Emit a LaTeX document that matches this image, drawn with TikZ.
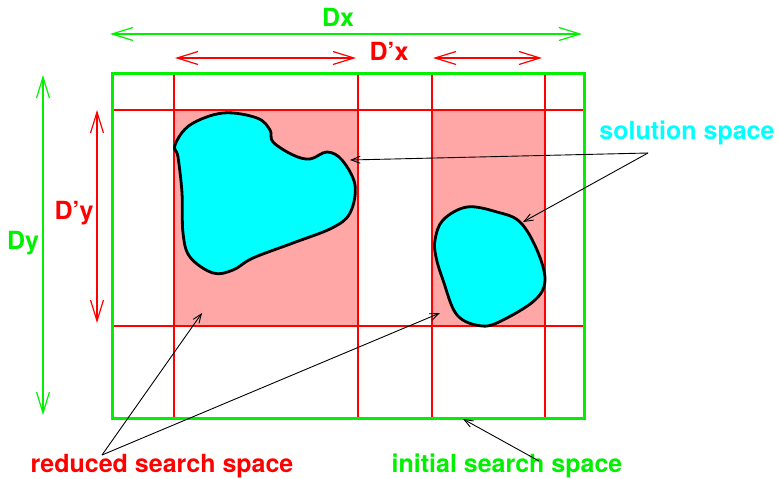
\documentclass[tikz,border=0pt]{standalone}
\usepackage{fontspec}
\setsansfont{TeX Gyre Heros}
\usepackage{xcolor}
\usepackage{tikz}
\usetikzlibrary{arrows.meta}

\definecolor{fgreen}{RGB}{0,240,0}
\definecolor{fred}{RGB}{255,0,0}
\definecolor{fcyan}{RGB}{0,255,255}
\definecolor{fpink}{RGB}{255,166,166}

\begin{document}
\begin{tikzpicture}[
    x=1pt, y=-1pt, font=\sffamily\bfseries\fontsize{25}{30}\selectfont,
    dimline/.style={line width=1.2pt, {Straight Barb[length=21pt,width=13pt]}-{Straight Barb[length=21pt,width=13pt]}},
    gridline/.style={fred, line width=2.4pt},
    region/.style={fill=fpink, draw=none},
    blob/.style={draw=black, fill=fcyan, line width=2.8pt},
    pointer/.style={->, >={Straight Barb[length=9pt,width=7pt]}, line width=0.9pt, black},
    label/.style={inner sep=0pt, anchor=center}
]
    \useasboundingbox (0,0) rectangle (779,479);

    % reduced regions
    \fill[region] (174,110) rectangle (358,326);
    \fill[region] (432,110) rectangle (545,326);

    % grid of the reduced search space
    \foreach \gx in {174,358,432,545}
        \draw[gridline] (\gx,73) -- (\gx,418);
    \foreach \gy in {110,326}
        \draw[gridline] (112,\gy) -- (584,\gy);

    % initial search space
    \draw[fgreen, line width=3pt] (112,73) rectangle (584,418);

    % solution blobs
    \draw[blob] plot[smooth cycle, tension=0.6] coordinates {
        (175,145) (190,125) (223,113) (257,118) (270,130) (273,142)
        (293,155) (310,159) (327,152) (342,160) (355,185) (350,213)
        (332,228) (293,243) (253,258) (233,270) (213,273) (190,257)
        (183,233) (182,193) (178,157)};
    \draw[blob] plot[smooth cycle, tension=0.6] coordinates {
        (435,240) (443,220) (467,207) (497,212) (520,222) (537,250)
        (545,280) (535,300) (503,320) (482,326) (457,315) (443,280)
        (436,257)};

    % dimension ends
    \coordinate (dxL) at (110,34);
    \coordinate (dxR) at (582,34);
    \coordinate (dpxL1) at (175,58);
    \coordinate (dpxR1) at (356,58);
    \coordinate (dpxL2) at (433,58);
    \coordinate (dpxR2) at (542,58);
    \coordinate (dyT) at (43,75);
    \coordinate (dyB) at (43,415);
    \coordinate (dpyT) at (97,110);
    \coordinate (dpyB) at (97,323);

    \draw[dimline, fgreen] (dxL) -- (dxR);
    \draw[dimline, fred] (dpxL1) -- (dpxR1);
    \draw[dimline, fred] (dpxL2) -- (dpxR2);
    \draw[dimline, fgreen] (dyT) -- (dyB);
    \draw[dimline, fred] (dpyT) -- (dpyB);

    \node[label, text=fgreen] (dx) at (338,17) {Dx};
    \node[label, text=fred] (dpx) at (389,51) {D’x};
    \node[label, text=fgreen] (dy) at (23,243) {Dy};
    \node[label, text=fred] (dpy) at (74,213) {D’y};

    % labels
    \node[label, text=fcyan] (sol) at (687,133) {solution space};
    \node[label, text=fred] (red) at (162,466) {reduced search space};
    \node[label, text=fgreen] (init) at (507,466) {initial search space};

    \coordinate (solfrom) at (648,153);
    \coordinate (soltip1) at (350,160);
    \coordinate (soltip2) at (523,222);
    \coordinate (redfrom) at (102,455);
    \coordinate (redtip1) at (202,313);
    \coordinate (redtip2) at (440,313);
    \coordinate (initfrom) at (539,461);
    \coordinate (inittip) at (463,419);

    \draw[pointer] (solfrom) -- (soltip1);
    \draw[pointer] (solfrom) -- (soltip2);
    \draw[pointer] (redfrom) -- (redtip1);
    \draw[pointer] (redfrom) -- (redtip2);
    \draw[pointer] (initfrom) -- (inittip);
\end{tikzpicture}
\end{document}
